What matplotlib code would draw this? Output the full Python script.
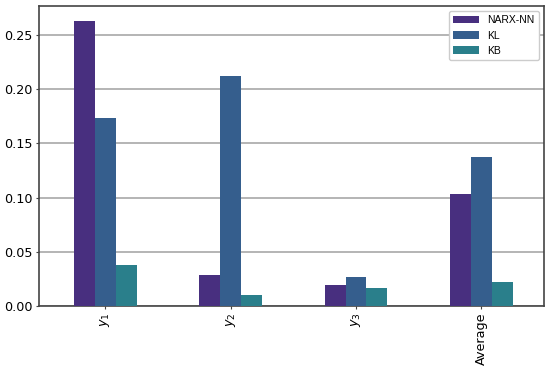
import numpy as np
import pandas as pd
import matplotlib
matplotlib.use("Agg")
import matplotlib.pyplot as plt

categories = [r"$y_1$", r"$y_2$", r"$y_3$", "Average"]
narx_nn = [0.263, 0.0286, 0.0191, 0.1033]
kl = [0.173, 0.212, 0.0265, 0.137]
kb = [0.0378, 0.0105, 0.0163, 0.0219]
colors = ["#482f7f", "#355e8d", "#2a7f8b"]

df = pd.DataFrame({"NARX-NN": narx_nn, "KL": kl, "KB": kb}, index=categories)

fig, ax = plt.subplots(figsize=(5.5, 3.7), dpi=100)
df.plot(kind="bar", ax=ax, color=colors, width=0.5, zorder=3)

ax.set_ylim(0, 0.2768)
ax.set_xlim(-0.53, 3.5)
ax.set_yticks([0.0, 0.05, 0.10, 0.15, 0.20, 0.25])
ax.set_yticklabels(["0.00", "0.05", "0.10", "0.15", "0.20", "0.25"])
ax.yaxis.grid(True, color="#b4b4b4", linewidth=1.4, zorder=0)
ax.set_axisbelow(True)
ax.tick_params(axis="both", labelsize=9.2, length=2.5, pad=2, color="#444444")
ax.tick_params(axis="x", labelrotation=90)
for s in ax.spines.values():
    s.set_color("#444444")
    s.set_linewidth(1.2)

ax.legend(loc="upper right", prop={"family": "Liberation Sans", "size": 7.5},
          handlelength=2.5, framealpha=1)

fig.subplots_adjust(left=0.071, right=0.989, top=0.984, bottom=0.173)
fig.savefig("out.png", dpi=100)
